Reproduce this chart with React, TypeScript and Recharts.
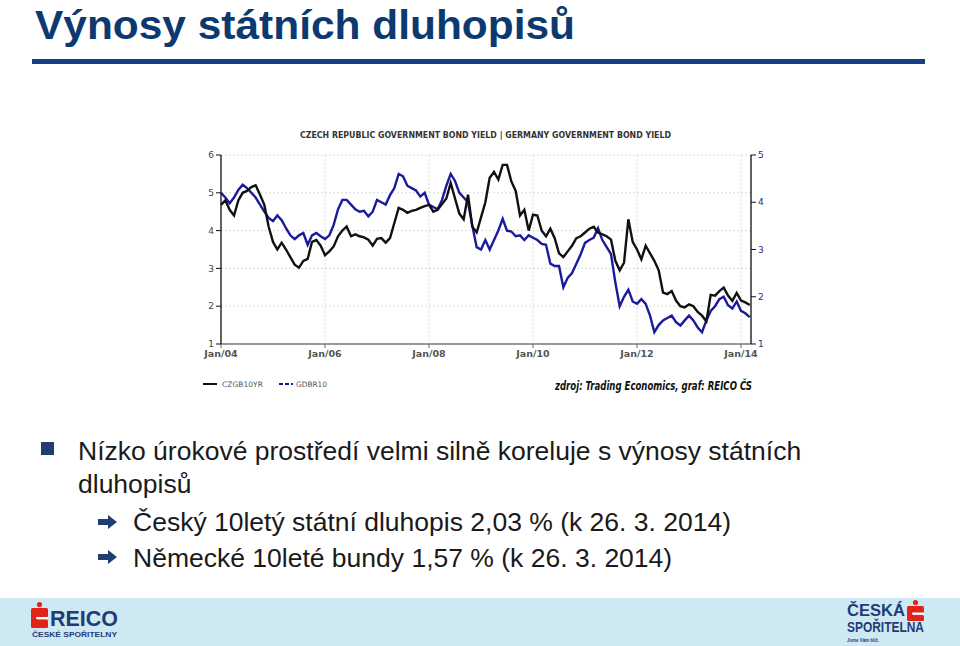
import { CartesianGrid, Line, LineChart, XAxis, YAxis } from "recharts";

// monthly readings Jan 2004 .. Mar 2014
const czYield = [
  4.68, 4.8, 4.55, 4.4, 4.8, 5.0, 5.05, 5.15, 5.2, 4.95, 4.68, 4.1,
  3.7, 3.5, 3.68, 3.5, 3.3, 3.1, 3.02, 3.2, 3.25, 3.7, 3.75, 3.6,
  3.35, 3.45, 3.58, 3.85, 4.0, 4.11, 3.85, 3.9, 3.85, 3.82, 3.76, 3.6,
  3.78, 3.8, 3.68, 3.8, 4.2, 4.6, 4.55, 4.47, 4.52, 4.55, 4.6, 4.65,
  4.68, 4.5, 4.55, 4.7, 4.85, 5.26, 4.85, 4.45, 4.3, 4.95, 4.1, 3.95,
  4.35, 4.75, 5.4, 5.55, 5.35, 5.74, 5.74, 5.3, 5.05, 4.4, 4.55, 4.0,
  4.42, 4.4, 4.0, 3.85, 4.05, 3.8, 3.4, 3.3, 3.45, 3.6, 3.8, 3.85,
  3.95, 4.05, 4.1, 3.95, 3.9, 3.85, 3.76, 3.2, 2.95, 3.15, 4.3, 3.7,
  3.5, 3.24, 3.6, 3.4, 3.2, 2.95, 2.36, 2.32, 2.4, 2.15, 2.0, 1.97,
  2.05, 2.0, 1.85, 1.75, 1.6, 2.3, 2.28, 2.4, 2.49, 2.28, 2.14, 2.35,
  2.15, 2.1, 2.03,
];

const deYield = [
  4.2, 4.1, 3.98, 4.1, 4.26, 4.37, 4.3, 4.2, 4.1, 3.95, 3.8, 3.67,
  3.6, 3.72, 3.62, 3.45, 3.3, 3.22, 3.3, 3.35, 3.1, 3.3, 3.35, 3.28,
  3.22, 3.3, 3.52, 3.85, 4.05, 4.05, 3.95, 3.85, 3.8, 3.82, 3.7, 3.8,
  4.05, 4.0, 3.95, 4.15, 4.3, 4.6, 4.55, 4.35, 4.3, 4.25, 4.12, 4.2,
  3.95, 3.9, 3.85, 4.05, 4.35, 4.6, 4.45, 4.2, 4.1, 4.0, 3.5, 3.05,
  3.0, 3.2, 3.0, 3.2, 3.4, 3.65, 3.4, 3.38, 3.28, 3.3, 3.2, 3.3,
  3.25, 3.2, 3.12, 3.1, 2.7, 2.65, 2.65, 2.2, 2.4, 2.5, 2.7, 2.9,
  3.14, 3.2, 3.25, 3.45, 3.2, 3.05, 2.9, 2.3, 1.8, 2.0, 2.15, 1.9,
  1.85, 1.95, 1.85, 1.6, 1.25, 1.4, 1.5, 1.55, 1.6, 1.46, 1.39, 1.5,
  1.6, 1.5, 1.35, 1.25, 1.5, 1.7, 1.8, 1.95, 2.0, 1.82, 1.75, 1.9,
  1.7, 1.65, 1.57,
];

const xTickMonths = [0, 24, 48, 72, 96, 120];
const xTickLabels = ["Jan/04", "Jan/06", "Jan/08", "Jan/10", "Jan/12", "Jan/14"];
const czTicks = [1, 2, 3, 4, 5, 6];
const deTicks = [1, 2, 3, 4, 5];

const data = czYield.map((cz, m) => ({ m, cz, de: deYield[m] }));

const NAVY = "#0c3a70";
const BODY = "#1a1a1a";
const LOGO = "#1d3c78";
const chartFont = "'DejaVu Sans', Verdana, sans-serif";
const bodyFont = "'Liberation Sans', Arial, sans-serif";

function RedS({ x, y, w, h }: { x: number; y: number; w: number; h: number }) {
  // simplified savings-bank "S" mark
  const half = (h - 5) / 2;
  return (
    <g fill="#e2231a">
      <circle cx={x + w / 2} cy={y + 2.5} r={2.6} />
      <rect x={x} y={y + 6} width={w} height={half} rx={1.5} />
      <rect x={x} y={y + 6 + half + 2} width={w} height={half - 1} rx={1.5} />
      <rect x={x} y={y + 6 + half - 1} width={w * 0.35} height={4} />
      <rect x={x + w * 0.3} y={y + 6 + half - 0.5} width={w * 0.7} height={2} fill="#fff" />
    </g>
  );
}

function Arrow({ x, y }: { x: number; y: number }) {
  return (
    <polygon
      points={`${x},${y + 3} ${x + 10},${y + 3} ${x + 10},${y - 1} ${x + 19},${y + 6} ${x + 10},${y + 13} ${x + 10},${y + 9} ${x},${y + 9}`}
      fill="#1f3f73"
    />
  );
}

export default function App() {
  return (
    <div
      style={{
        position: "fixed",
        left: 0,
        top: 0,
        width: 960,
        height: 646,
        background: "#fff",
        overflow: "hidden",
      }}
    >
      <div style={{ position: "absolute", left: 0, top: 598, width: 960, height: 48, background: "#cfe9f2" }} />

      <div style={{ position: "absolute", left: 180, top: 145 }}>
        <LineChart width={610} height={230} data={data} margin={{ top: 10, right: 9, bottom: 11, left: 11 }}>
          <CartesianGrid yAxisId="cz" stroke="#d9d9d9" strokeDasharray="2 2" />
          <XAxis
            dataKey="m"
            type="number"
            domain={[0, 122.3]}
            ticks={xTickMonths}
            tickFormatter={(v: number) => xTickLabels[xTickMonths.indexOf(v)]}
            height={20}
            axisLine={{ stroke: "#999", strokeWidth: 2 }}
            tickLine={{ stroke: "#666" }}
            tickSize={4}
            tick={{ fontSize: 9.5, fill: "#555", fontFamily: chartFont, fontWeight: "bold" }}
          />
          <YAxis
            yAxisId="cz"
            orientation="left"
            domain={[1, 6]}
            ticks={czTicks}
            width={30}
            axisLine={{ stroke: "#111", strokeWidth: 1.3 }}
            tickLine={{ stroke: "#111" }}
            tickSize={5}
            tick={{ fontSize: 9, fill: "#444", fontFamily: chartFont }}
          />
          <YAxis
            yAxisId="de"
            orientation="right"
            domain={[1, 5]}
            ticks={deTicks}
            width={30}
            axisLine={{ stroke: "#111", strokeWidth: 1.3 }}
            tickLine={{ stroke: "#111" }}
            tickSize={5}
            tick={{ fontSize: 9, fill: "#2a2a7a", fontFamily: chartFont }}
          />
          <Line yAxisId="de" dataKey="de" type="linear" stroke="#1a1a9c" strokeWidth={2.4} dot={false} isAnimationActive={false} />
          <Line yAxisId="cz" dataKey="cz" type="linear" stroke="#111" strokeWidth={2.4} dot={false} isAnimationActive={false} />
        </LineChart>
      </div>

      <svg width={960} height={646} style={{ position: "absolute", left: 0, top: 0, pointerEvents: "none" }}>
        <text x={35} y={39} fontFamily={bodyFont} fontWeight="bold" fontSize={40} fill={NAVY} textLength={540} lengthAdjust="spacingAndGlyphs">
          Výnosy státních dluhopisů
        </text>
        <rect x={32} y={59} width={893} height={5} fill="#173f80" />

        <text x={300} y={138} fontFamily={chartFont} fontWeight="bold" fontSize={8.5} fill="#333" textLength={371} lengthAdjust="spacingAndGlyphs">
          CZECH REPUBLIC GOVERNMENT BOND YIELD | GERMANY GOVERNMENT BOND YIELD
        </text>

        <line x1={203} y1={384} x2={217} y2={384} stroke="#111" strokeWidth={2} />
        <text x={222} y={387} fontFamily={chartFont} fontSize={7.5} fill="#555" textLength={41} lengthAdjust="spacingAndGlyphs">CZGB10YR</text>
        <line x1={279} y1={384} x2={293} y2={384} stroke="#1a1a9c" strokeWidth={2} strokeDasharray="4 2" />
        <text x={296} y={387} fontFamily={chartFont} fontSize={7.5} fill="#555" textLength={31} lengthAdjust="spacingAndGlyphs">GDBR10</text>

        <text x={555} y={390} fontFamily="'DejaVu Sans Condensed', 'DejaVu Sans', sans-serif" fontWeight="bold" fontStyle="italic" fontSize={11.5} fill="#111" textLength={197} lengthAdjust="spacingAndGlyphs">
          zdroj:  Trading Economics, graf: REICO ČS
        </text>

        <rect x={41} y={442} width={13} height={13} fill="#1f3f73" />
        <text x={78} y={460} fontFamily={bodyFont} fontSize={26.5} fill={BODY}>
          Nízko úrokové prostředí velmi silně koreluje s výnosy státních
        </text>
        <text x={78} y={493} fontFamily={bodyFont} fontSize={26.5} fill={BODY}>
          dluhopisů
        </text>
        <Arrow x={98} y={516} />
        <text x={133} y={531} fontFamily={bodyFont} fontSize={26.5} fill={BODY}>
          Český 10letý státní dluhopis 2,03 % (k 26. 3. 2014)
        </text>
        <Arrow x={98} y={551} />
        <text x={133} y={567} fontFamily={bodyFont} fontSize={26.5} fill={BODY}>
          Německé 10leté bundy 1,57 % (k 26. 3. 2014)
        </text>

        <RedS x={31} y={602} w={17} h={24} />
        <text x={50} y={626} fontFamily={bodyFont} fontWeight="bold" fontSize={22} fill={LOGO} textLength={68} lengthAdjust="spacingAndGlyphs">REICO</text>
        <text x={32} y={637} fontFamily={bodyFont} fontWeight="bold" fontSize={7} fill={LOGO} textLength={85} lengthAdjust="spacingAndGlyphs">ČESKÉ SPOŘITELNY</text>

        <text x={847} y={616} fontFamily={bodyFont} fontWeight="bold" fontSize={17} fill={LOGO} textLength={58} lengthAdjust="spacingAndGlyphs">ČESKÁ</text>
        <RedS x={907} y={600} w={17} h={19} />
        <text x={847} y={632} fontFamily={bodyFont} fontWeight="bold" fontSize={14} fill={LOGO} textLength={77} lengthAdjust="spacingAndGlyphs">SPOŘITELNA</text>
        <text x={847} y={642} fontFamily={bodyFont} fontWeight="bold" fontSize={6} fill={LOGO} textLength={32} lengthAdjust="spacingAndGlyphs">Jsme Vám blíž.</text>
      </svg>
    </div>
  );
}
